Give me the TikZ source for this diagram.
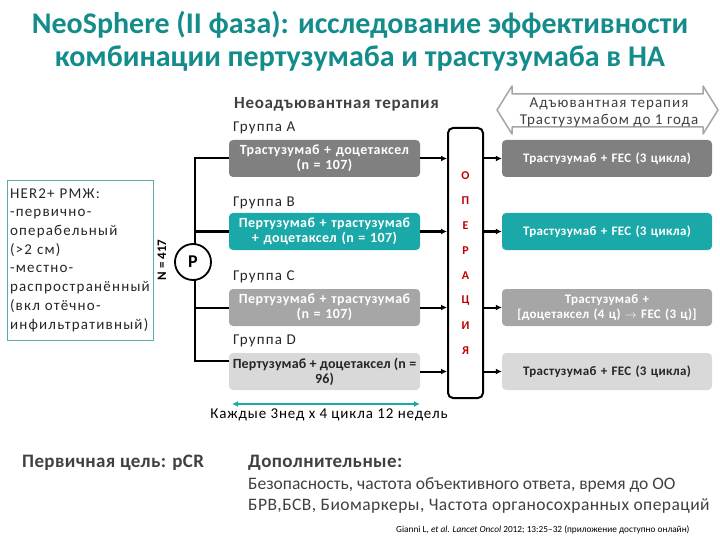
\documentclass[tikz,border=0pt]{standalone}
\usepackage{fontspec}
\setmainfont{Carlito}
\usetikzlibrary{arrows.meta,calc}
\definecolor{ttl}{RGB}{20,140,140}
\definecolor{tealbox}{RGB}{26,168,168}
\definecolor{gA}{RGB}{128,128,128}
\definecolor{gC}{RGB}{166,166,166}
\definecolor{gD}{RGB}{217,217,217}
\definecolor{dtxt}{RGB}{64,64,64}
\definecolor{opred}{RGB}{192,0,0}
\definecolor{boxline}{RGB}{90,172,172}
\definecolor{arrgray}{RGB}{165,165,165}
\newcommand{\lsp}[1]{\addfontfeature{LetterSpace=#1}}
\begin{document}
\begin{tikzpicture}[x=1pt,y=-1pt,
  grp/.style={rounded corners=4pt, minimum width=191pt, minimum height=37pt, text width=187pt, align=center, inner sep=0pt, font=\fontsize{14}{15}\selectfont\bfseries\lsp{3}, text=white},
  rbox/.style={rounded corners=4pt, minimum width=210pt, minimum height=37pt, text width=206pt, align=center, inner sep=0pt, font=\fontsize{13}{15}\selectfont\bfseries\lsp{2.5}, text=white},
  lbl/.style={anchor=west, inner sep=0pt, font=\fontsize{15}{16}\selectfont\lsp{8}, text=black!85},
  conn/.style={line width=2pt, -{Latex[length=6pt,width=6pt]}},
  thick line/.style={line width=2pt},
  oplet/.style={font=\bfseries\fontsize{12}{12}\selectfont, text=opred, inner sep=0pt}]
\useasboundingbox (0,0) rectangle (720,540);

% title
\node[font=\bfseries\fontsize{30}{33}\selectfont, text=ttl, align=center] (title) at (360,41.5)
  {NeoSphere (II фаза): исследование эффективности\\комбинации пертузумаба и трастузумаба в НА};

% population box
\node[draw=boxline, line width=0.8pt, minimum width=146pt, minimum height=160pt, text width=140pt,
  align=left, inner sep=2.5pt, font=\fontsize{15}{18.7}\selectfont\lsp{8}, text=black!85] (pop) at (80,260)
  {HER2+ РМЖ:\\-первично-\\операбельный\\(>2 см)\\-местно-\\распространённый\\(вкл отёчно-\\инфильтративный)};
\node[rotate=90, font=\bfseries\fontsize{13}{13}\selectfont, inner sep=0pt] (N) at (162,260) {N = 417};

% header
\node[anchor=west, inner sep=0pt, font=\bfseries\fontsize{17}{18}\selectfont\lsp{4}, text=dtxt] (neo) at (234,104) {Неоадъювантная терапия};

% group labels
\node[lbl] (lA) at (233,128) {Группа А};
\node[lbl] (lB) at (233,203) {Группа B};
\node[lbl] (lC) at (233,277) {Группа C};
\node[lbl] (lD) at (233,341) {Группа D};

% group boxes
\node[grp, fill=gA] (A) at (324.5,158.5) {Трастузумаб + доцетаксел\\(n = 107)};
\node[grp, fill=tealbox] (B) at (324.5,231.5) {Пертузумаб + трастузумаб\\+ доцетаксел (n = 107)};
\node[grp, fill=gC] (C) at (324.5,307.5) {Пертузумаб + трастузумаб\\(n = 107)};
\node[grp, fill=gD, text=black!85, text width={}, font=\fontsize{14}{15}\selectfont\bfseries\lsp{1}] (D) at (324.5,371.5) {Пертузумаб + доцетаксел (n =\\96)};

% randomisation tree
\coordinate (vbot) at (195,361);
\draw[thick line] (A.west) -| (vbot) -- (vbot -| D.west);
\draw[thick line] (B.west -| vbot) -- (B.west);
\draw[thick line] (C.west -| vbot) -- (C.west);
\node[circle, draw, fill=white, line width=1.8pt, minimum size=36pt, inner sep=0pt,
  font=\bfseries\fontsize{18}{18}\selectfont] (P) at (193,262) {P};

% operation box
\node[draw, line width=2pt, rounded corners=5pt, minimum width=35pt, minimum height=270pt, inner sep=0pt] (op) at (465.5,263) {};
\foreach \l [count=\i from 0] in {О,П,Е,Р,А,Ц,И,Я}
  \node[oplet] (op\i) at (465.5,{176+25*\i}) {\l};

% right boxes
\node[rbox, fill=gA] (R1) at (607,158.5) {Трастузумаб + FEC (3 цикла)};
\node[rbox, fill=tealbox] (R2) at (607,231.5) {Трастузумаб + FEC (3 цикла)};
\node[rbox, fill=gC] (R3) at (607,307.5) {Трастузумаб +\\{}[доцетаксел (4 ц) $\rightarrow$ FEC (3 ц)]};
\node[rbox, fill=gD, text=black!85] (R4) at (607,371.5) {Трастузумаб + FEC (3 цикла)};

% arrows
\foreach \g in {A,B,C,D} \draw[conn] (\g.east) -- (\g.east -| op.west);
\foreach \r in {R1,R2,R3,R4} \draw[conn] (\r.west -| op.east) -- (\r.west);

% adjuvant double arrow
\draw[arrgray, line width=1.5pt, fill=white, line join=round]
  (497,110) -- (512,86) -- (512,94) -- (703,94) -- (703,86) -- (718,110)
  -- (703,134) -- (703,127) -- (512,127) -- (512,134) -- cycle;
\node[align=center, font=\fontsize{15}{17}\selectfont\lsp{7}, text=dtxt] (adj) at (609,112.5)
  {Адъювантная терапия\\Трастузумабом до 1 года};

% cycle arrow
\coordinate (cyL) at (232,404);
\coordinate (cyR) at (420,404);
\draw[tealbox, line width=1.8pt, {Latex[length=6pt,width=6pt]}-{Latex[length=6pt,width=6pt]}] (cyL) -- (cyR);
\node[font=\fontsize{15}{16}\selectfont\lsp{6}, inner sep=0pt] (cyc) at (329,415) {Каждые 3нед х 4 цикла 12 недель};

% endpoints
\node[anchor=west, inner sep=0pt, font=\bfseries\fontsize{19}{20}\selectfont\lsp{2}, text=dtxt] (prim) at (22,463) {Первичная цель: pCR};
\node[anchor=west, inner sep=0pt, font=\bfseries\fontsize{19}{20}\selectfont\lsp{2}, text=dtxt] (sec) at (248,463) {Дополнительные:};
\node[anchor=west, inner sep=0pt, font=\fontsize{17.5}{20}\selectfont, text=dtxt] (s1) at (248,485) {Безопасность, частота объективного ответа, время до ОО};
\node[anchor=west, inner sep=0pt, font=\fontsize{17.5}{20}\selectfont\lsp{2.5}, text=dtxt] (s2) at (248,506) {БРВ,БСВ, Биомаркеры, Частота органосохранных операций};
\node[anchor=west, inner sep=0pt, font=\fontsize{9.3}{10}\selectfont] (cite) at (396,530)
  {Gianni L, \textit{et al.} \textit{Lancet Oncol} 2012; 13:25--32 (приложение доступно онлайн)};
\end{tikzpicture}
\end{document}
